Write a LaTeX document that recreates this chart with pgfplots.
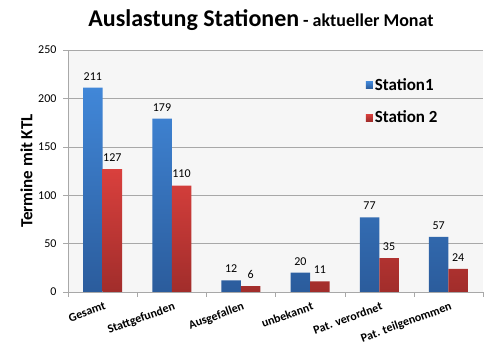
\documentclass[border=0pt]{standalone}
\usepackage{pgfplots}
\pgfplotsset{compat=1.18}
\usepackage{fontspec}
\setmainfont{Carlito}
\definecolor{bluetop}{HTML}{4187D8}
\definecolor{bluebot}{HTML}{2B5C9C}
\definecolor{redtop}{HTML}{D9403D}
\definecolor{redbot}{HTML}{A12D2B}
\definecolor{plotbg}{HTML}{F6F6F6}
\definecolor{gridc}{HTML}{A8A8A8}
\begin{document}
\begin{tikzpicture}
\path[use as bounding box, fill=white] (0,0) rectangle (495pt,355pt);
\begin{axis}[
  at={(68pt,63pt)}, anchor=south west,
  scale only axis, width=415pt, height=242pt,
  ymin=0, ymax=250, ytick={0,50,...,250},
  xmin=-0.5, xmax=5.5,
  xtick={0,...,5},
  xticklabels={Gesamt,Stattgefunden,Ausgefallen,unbekannt,Pat. verordnet,Pat. teilgenommen},
  x tick label style={rotate=20, anchor=north east, font=\bfseries\fontsize{12}{13}\selectfont, inner sep=0.5pt, yshift=-4pt},
  y tick label style={font=\fontsize{12}{13}\selectfont, xshift=-3pt},
  /pgf/number format/assume math mode=true,
  major x tick style={draw=none},
  minor xtick={-0.5,0.5,...,5.5},
  minor x tick style={gridc},
  tick align=outside,
  major tick length=5pt, minor tick length=5pt,
  axis x line*=bottom, axis y line*=left,
  axis line style={gridc},
  ytick style={gridc},
  ymajorgrids, grid style={gridc},
  axis background/.style={fill=plotbg},
  ybar=0pt, bar width=19.5pt,
  nodes near coords,
  every node near coord/.append style={font=\fontsize{12}{13}\selectfont, black, yshift=4pt},
  title={\fontsize{24}{28}\selectfont\bfseries Auslastung Stationen\,{\fontsize{18}{20}\selectfont - aktueller Monat}},
  title style={at={(axis description cs:0.465,1.10)}, anchor=center},
  ylabel={Termine mit KTL},
  ylabel style={at={(axis description cs:-0.1,0.5)}, anchor=center, font=\bfseries\fontsize{17}{19}\selectfont},
  legend style={at={(axis description cs:0.71,0.9)}, anchor=north west, draw=none, fill=none,
     font=\bfseries\fontsize{17}{19}\selectfont, row sep=15pt, legend cell align=left},
  legend image code/.code={\fill[#1] (0pt,-3.5pt) rectangle (7pt,3.5pt);},
]
\addplot[draw=none, top color=bluetop, bottom color=bluebot] coordinates {(0,211) (1,179) (2,12) (3,20) (4,77) (5,57)};
\addlegendentry{Station1}
\addplot[draw=none, top color=redtop, bottom color=redbot] coordinates {(0,127) (1,110) (2,6) (3,11) (4,35) (5,24)};
\addlegendentry{Station 2}
\end{axis}
\end{tikzpicture}
\end{document}
